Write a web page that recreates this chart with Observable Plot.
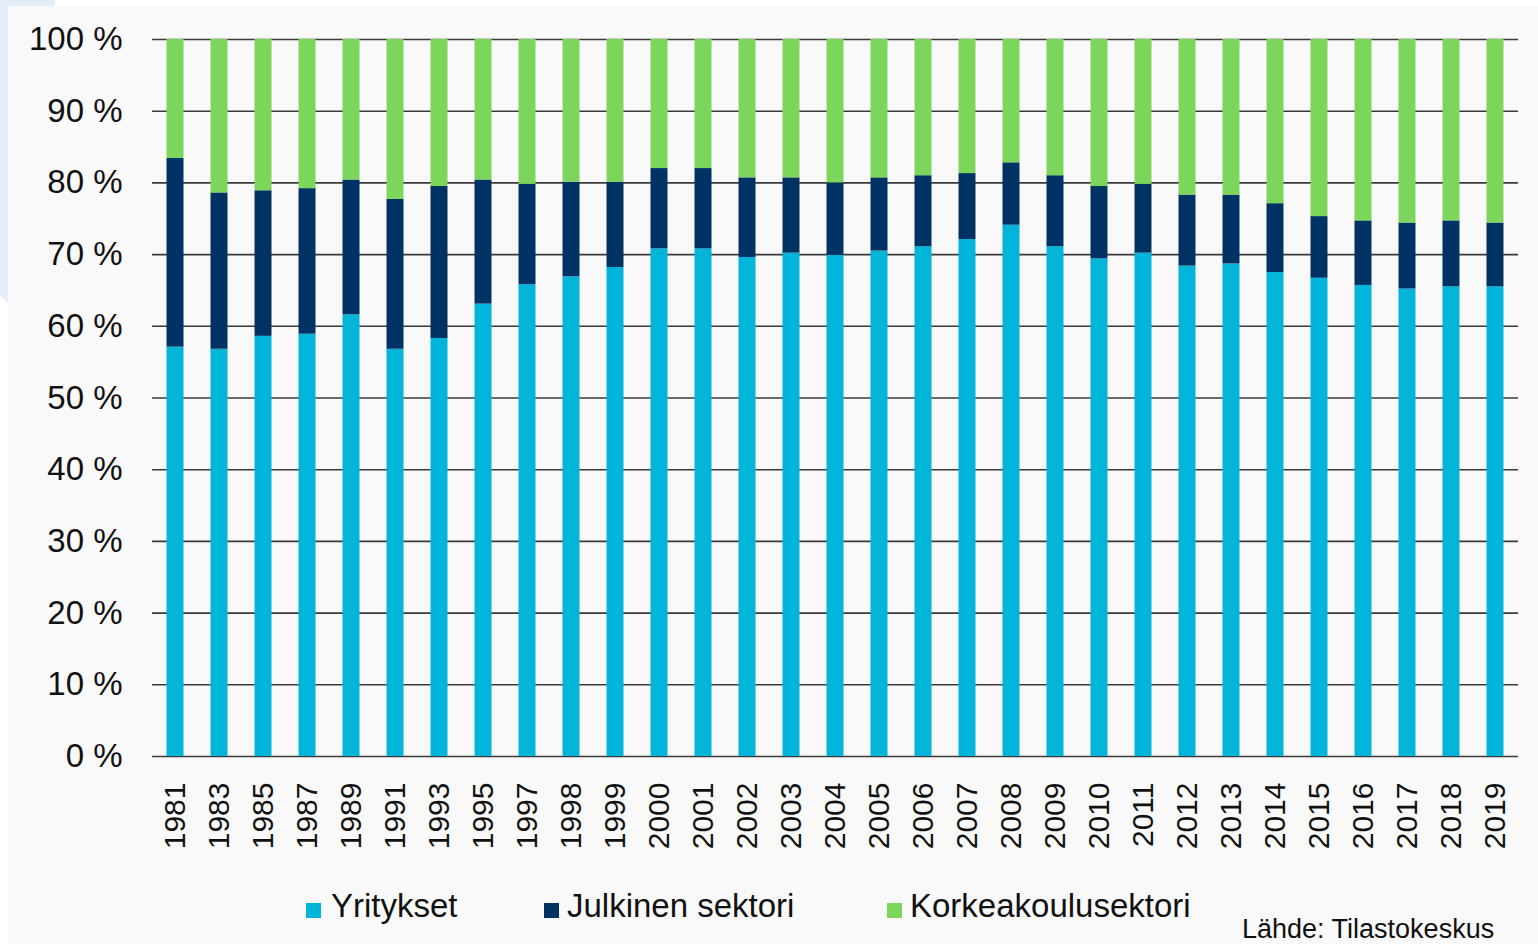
<!DOCTYPE html>
<html>
<head>
<meta charset="utf-8">
<script src="https://cdn.jsdelivr.net/npm/d3@7"></script>
<script src="https://cdn.jsdelivr.net/npm/@observablehq/plot@0.6"></script>
<style>
  html, body { margin: 0; padding: 0; width: 1538px; height: 944px; overflow: hidden; background: #ffffff; font-family: "Liberation Sans", Arial, sans-serif; }
  #deco { position: absolute; left: 0; top: 0; width: 60px; height: 320px; background: #e3eef8; clip-path: polygon(0 0, 55px 0, 55px 6px, 8px 6px, 8px 303px, 0 296px); }
  #panel { position: absolute; left: 8px; top: 6px; width: 1530px; height: 938px; background: #f9f9f9; }
  #chart { position: absolute; left: 0; top: 0; }
  .leg { position: absolute; font-size: 33px; line-height: 33px; color: #111; white-space: nowrap; }
  .src { position: absolute; font-size: 27px; line-height: 27px; color: #111; white-space: nowrap; }
  .sw { position: absolute; width: 15px; height: 15px; }
</style>
</head>
<body>
<div id="deco"></div>
<div id="panel"></div>
<div id="chart"></div>
<div class="sw" style="left:306px; top:903px; background:#00b5d9"></div>
<div class="leg" style="left:331px; top:889px;">Yritykset</div>
<div class="sw" style="left:544px; top:903px; background:#003264"></div>
<div class="leg" style="left:567px; top:889px;">Julkinen sektori</div>
<div class="sw" style="left:887px; top:903px; background:#7cd65b"></div>
<div class="leg" style="left:910px; top:889px;">Korkeakoulusektori</div>
<div class="src" style="left:1242px; top:916px;">Lähde: Tilastokeskus</div>
<script>
// Years (categories)
const years = ["1981","1983","1985","1987","1989","1991","1993","1995","1997","1998","1999",
  "2000","2001","2002","2003","2004","2005","2006","2007","2008","2009","2010",
  "2011","2012","2013","2014","2015","2016","2017","2018","2019"];
// Share of business sector (Yritykset), %
const yritykset = [57.1,56.8,58.6,58.9,61.6,56.8,58.3,63.1,65.8,66.9,68.2,
  70.8,70.8,69.6,70.2,69.9,70.5,71.1,72.1,74.1,71.1,69.4,
  70.2,68.4,68.7,67.5,66.7,65.7,65.2,65.5,65.5];
// Share of public sector (Julkinen sektori), %
const julkinen = [26.3,21.8,20.3,20.3,18.8,20.9,21.2,17.3,14.0,13.2,11.9,
  11.2,11.2,11.1,10.5,10.1,10.2,9.9,9.2,8.7,9.9,10.1,
  9.6,9.9,9.6,9.6,8.6,9.0,9.2,9.2,8.9];
// Share of higher education sector (Korkeakoulusektori), %
const korkeakoulu = [16.6,21.4,21.1,20.8,19.6,22.3,20.5,19.6,20.2,19.9,19.9,
  18.0,18.0,19.3,19.3,20.0,19.3,19.0,18.7,17.2,19.0,20.5,
  20.2,21.7,21.7,22.9,24.7,25.3,25.6,25.3,25.6];
const seriesNames = ["Yritykset","Julkinen sektori","Korkeakoulusektori"];
const seriesColors = ["#00b5d9","#003264","#7cd65b"];
const yTicks = [0,10,20,30,40,50,60,70,80,90,100];

const seriesValues = [yritykset, julkinen, korkeakoulu];
const rows = [];
seriesNames.forEach((s, si) => {
  years.forEach((y, i) => rows.push({year: y, series: s, value: seriesValues[si][i]}));
});

const chart = Plot.plot({
  width: 1538,
  height: 860,
  marginTop: 39,
  marginBottom: 104,
  marginLeft: 152,
  marginRight: 20,
  style: { background: "transparent", fontFamily: "Liberation Sans, Arial, sans-serif", color: "#111" },
  x: { type: "band", domain: years, paddingInner: 0.614, paddingOuter: 0.33, label: null },
  y: { domain: [0, 100], label: null },
  color: { domain: seriesNames, range: seriesColors },
  marks: [
    Plot.ruleY(yTicks, { stroke: "#3a3a3a", strokeWidth: 1.6 }),
    Plot.barY(rows, { x: "year", y: "value", fill: "series", order: seriesNames }),
    Plot.axisY({ ticks: yTicks, tickSize: 0, tickPadding: 30, tickFormat: d => d + " %", fontSize: 33, label: null }),
    Plot.axisX({ tickSize: 0, tickPadding: 26, tickRotate: -90, fontSize: 30, label: null })
  ]
});
document.getElementById("chart").appendChild(chart);
</script>
</body>
</html>
